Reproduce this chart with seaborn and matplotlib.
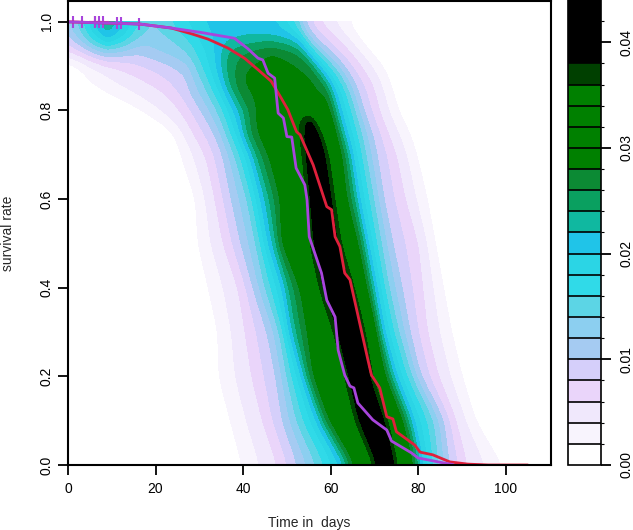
#!/usr/bin/env python3

import numpy as np
from matplotlib import pyplot as plt
import seaborn as sns

nan = float('nan')

# filled contour bands
band_levels = [0, .002, .004, .006, .008, .010, .012, .014, .016, .018, .020, .022,
               .024, .026, .028, .030, .032, .034, .036, .038, .040, .042, .044]
band_colors = ['#FFFFFF', '#F8F4FD', '#F0E8FC', '#EAD5FA', '#D5CFFA', '#A5CBF2', '#8CCFF0',
               '#5CD5E5', '#30DAE8', '#2BD5E5', '#20C4E8', '#10B8A0', '#0AA060', '#0C8A34',
               '#008000', '#008000', '#008000', '#008000', '#004000', '#000000', '#000000', '#000000']

# density ridge: time in days where each level is crossed, per survival rate
row_rate = [0, .1, .2, .3, .4, .5, .6, .7, .75, .8, .85, .9, .95, 1.0]
edge_levels = [.002, .006, .010, .014, .020, .024, .028, .036, .038]
left_edges = [
    [39.7, 48.0, 52.5, 56.8, 62.5, 64.0, 65.5, 70.0, 70.5],
    [37.0, 44.5, 49.0, 52.2, 56.8, 58.2, 59.4, 65.8, 66.2],
    [34.4, 42.0, 47.6, 50.0, 53.4, 54.5, 55.8, 63.4, 64.0],
    [34.2, 40.5, 45.6, 48.4, 50.5, 52.0, 54.6, 60.9, 61.4],
    [32.0, 39.0, 42.3, 45.0, 49.0, 50.3, 53.0, 57.5, 58.0],
    [29.7, 35.5, 39.5, 43.0, 45.7, 47.5, 48.6, 55.5, 56.0],
    [29.2, 33.6, 37.3, 41.0, 44.0, 46.0, 48.4, 54.6, 55.2],
    [25.8, 31.5, 35.4, 38.1, 41.6, 43.0, 45.7, 53.7, 54.3],
    [24.4, 28.5, 33.5, 36.0, 39.3, 40.5, 43.0, 53.0, 54.0],
    [16.6, 25.8, 30.4, 34.2, 38.0, 40.4, 43.0, 53.0, nan],
    [5.7, 21.7, 27.4, 31.5, 35.4, 37.0, 40.0, nan, nan],
    [2.7, 9.6, 26.7, 29.2, 33.8, 36.0, 40.0, nan, nan],
    [-4.0, 1.5, 6.8, 25.8, 33.5, 37.0, nan, nan, nan],
    [-10.0, -6.0, -1.0, 19.0, 31.0, nan, nan, nan, nan],
]
right_edges = [
    [99.3, 91.0, 87.0, 84.5, 81.0, 80.0, 79.0, 75.2, 74.7],
    [93.0, 88.5, 85.8, 83.5, 79.0, 77.8, 76.5, 73.0, 72.4],
    [90.0, 84.5, 80.4, 78.5, 75.0, 73.8, 72.4, 69.6, 69.0],
    [87.6, 82.0, 78.0, 75.5, 72.2, 71.2, 70.5, 67.9, 67.3],
    [85.7, 81.0, 76.2, 73.2, 70.5, 69.3, 68.3, 65.4, 64.8],
    [83.8, 80.0, 74.0, 71.5, 68.5, 67.5, 66.3, 62.3, 61.7],
    [82.0, 77.0, 72.0, 69.8, 66.5, 65.5, 63.6, 61.0, 60.2],
    [79.6, 75.0, 70.5, 68.0, 65.0, 64.0, 62.5, 59.6, 58.7],
    [78.0, 73.0, 69.4, 67.0, 63.7, 62.4, 61.3, 58.0, 57.2],
    [75.3, 71.0, 67.4, 65.5, 62.4, 61.0, 60.0, 54.8, nan],
    [74.0, 70.0, 66.0, 64.0, 61.0, 59.7, 58.5, nan, nan],
    [72.0, 67.0, 63.0, 60.8, 57.5, 56.0, 54.6, nan, nan],
    [67.4, 62.8, 57.5, 55.0, 53.4, 52.5, nan, nan, nan],
    [64.0, 56.8, 53.5, 52.5, 47.3, nan, nan, nan, nan],
]
# where the closed contours end: rate and time of the tip, per edge level (nan = reaches the top)
tip_rate = [nan, nan, nan, nan, nan, .964, .94, .808, .779]
tip_time = [nan, nan, nan, nan, nan, 46.0, 46.5, 53.7, 54.8]

# small bump at the start of the study
bump_time = [0, 3, 6, 9, 12, 15, 20, 25]
bump_rate = [.90, .93, .96, .98, 1.0]
bump_density = [
    [0, 0, 0, 0, 0, 0, 0, 0],
    [.006, .008, .011, .013, .012, .011, .010, 0],
    [.009, .012, .016, .019, .017, .014, .011, 0],
    [.011, .015, .020, .025, .021, .017, .012, 0],
    [.012, .015, .020, .023, .021, .017, .014, 0],
]

# survival curves
purple_time = [0, 16.4, 23.6, 30.4, 38.0, 41.0, 43.4, 44.5, 45.7, 47.2, 48.0, 49.2, 50.0, 51.1, 52.1,
               54.1, 54.6, 55.1, 57.9, 59.1, 61.0, 61.7, 63.2, 64.4, 65.3, 66.2, 69.6, 72.8, 73.9,
               78.5, 79.9, 85.6, 87.9]
purple_rate = [1.0, .995, .986, .976, .963, .940, .918, .914, .884, .873, .794, .783, .741, .740, .670,
               .632, .598, .515, .433, .372, .334, .259, .203, .178, .174, .140, .102, .079, .054,
               .027, .016, .005, .001]
red_time = [0, 16.4, 23.6, 28.2, 32.0, 36.5, 40.3, 43.4, 46.4, 48.7, 50.2, 52.2, 53.0, 56.0, 59.1, 60.2,
            61.0, 62.1, 63.2, 64.4, 68.5, 69.3, 71.2, 72.8, 74.2, 75.0, 79.2, 80.4, 83.3, 87.2, 91.3,
            96.0, 105.0]
red_rate = [1.0, .995, .986, .973, .961, .941, .918, .892, .866, .828, .802, .752, .745, .677, .583, .576,
            .515, .493, .433, .418, .237, .203, .174, .109, .104, .075, .045, .029, .023, .007, .002,
            0, 0]
purple_censored = [1.2, 3.1, 6.2, 7.2, 8.0, 11.1, 12.1, 16.2]
purple_censored_rate = [1.0, 1.0, 1.0, 1.0, 1.0, .998, .998, .995]
red_censored = [6.2]
red_censored_rate = [1.0]

PURPLE = '#A845DC'
RED = '#E0203C'


def edges_at(rates, table):
    # every level crossing along the fine rate grid, nan above the contour's tip
    table = np.array(table)
    result = np.full((len(rates), table.shape[1]), nan)
    for j in range(table.shape[1]):
        keep = ~np.isnan(table[:, j])
        xp = list(np.array(row_rate)[keep])
        fp = list(table[keep, j])
        if not np.isnan(tip_rate[j]):
            xp.append(tip_rate[j])
            fp.append(tip_time[j])
        result[:, j] = np.interp(rates, xp, fp, right=nan)
    return result


def soften(grid, width, axis):
    # moving average with edge padding, rounds off the corners between the table rows
    pad = width // 2
    kernel = np.ones(width) / width
    pad_width = [(pad, pad) if a == axis else (0, 0) for a in range(2)]
    padded = np.pad(grid, pad_width, mode='edge')
    return np.apply_along_axis(lambda v: np.convolve(v, kernel, mode='valid'), axis, padded)


def density_grid(times, rates):
    left = edges_at(rates, left_edges)
    right = edges_at(rates, right_edges)
    levels = np.array(edge_levels)
    grid = np.zeros((len(rates), len(times)))
    for i in range(len(rates)):
        here = ~np.isnan(left[i])
        top = levels[here][-1]
        peak = .042 if top >= .038 else top + .001
        ts = np.concatenate([[left[i][0] - 3], left[i][here],
                             [(left[i][here][-1] + right[i][here][-1]) / 2],
                             right[i][here][::-1], [right[i][0] + 3]])
        ds = np.concatenate([[0], levels[here], [peak], levels[here][::-1], [0]])
        grid[i] = np.interp(times, ts, ds)

    # the early bump sits on top of the ridge
    rows = np.array([np.interp(times, bump_time, r, right=0) for r in bump_density])
    bump = np.array([np.interp(rates, bump_rate, rows[:, k], left=0) for k in range(len(times))]).T
    grid = np.maximum(grid, bump)

    for _ in range(2):
        grid = soften(grid, 9, 0)
        grid = soften(grid, 5, 1)
    return grid


def create_plot(to_file):
    fig = plt.figure(figsize=(6.33, 5.30), dpi=100)
    ax = fig.add_axes([67.5 / 633, 1 - 465 / 530, (551 - 67.5) / 633, 464 / 530])
    cax = fig.add_axes([568 / 633, 1 - 465 / 530, 33 / 633, 465 / 530])

    times = np.arange(0, 110.5, .25)
    rates = np.arange(0, 1.0001, .005)
    cs = ax.contourf(times, rates, density_grid(times, rates), levels=band_levels, colors=band_colors)

    sns.lineplot(x=red_time, y=red_rate, ax=ax, color=RED, linewidth=2, sort=False, estimator=None)
    sns.lineplot(x=purple_time, y=purple_rate, ax=ax, color=PURPLE, linewidth=2, sort=False, estimator=None)
    sns.scatterplot(x=red_censored, y=red_censored_rate, ax=ax, color=RED, marker='+', s=70, linewidth=1.5)
    sns.scatterplot(x=purple_censored, y=purple_censored_rate, ax=ax, color=PURPLE, marker='+', s=70, linewidth=1.5)

    ax.set_xlim(-.1, 110.3)
    ax.set_ylim(0, 1.047)
    ax.set_xticks([0, 20, 40, 60, 80, 100])
    ax.set_yticks([0, .2, .4, .6, .8, 1.0])
    ax.tick_params(length=7, width=1.3, labelsize=10, color='black', labelcolor='black', pad=5)
    ax.tick_params(axis='y', pad=3)
    plt.setp(ax.get_yticklabels(), rotation=90, va='center')
    ax.set_xlabel('Time in  days', fontsize=10, labelpad=15)
    ax.set_ylabel('survival rate', fontsize=10, labelpad=18)
    for spine in ax.spines.values():
        spine.set_visible(True)
        spine.set_linewidth(1.5)
        spine.set_color('black')

    cb = fig.colorbar(cs, cax=cax, drawedges=True, spacing='proportional',
                      ticks=[0, .01, .02, .03, .04], format='%.2f')
    cb.dividers.set_color('black')
    cb.dividers.set_linewidth(1.2)
    cb.outline.set_edgecolor('black')
    cb.outline.set_linewidth(1.2)
    cax.tick_params(length=7, width=1.3, labelsize=10, pad=6, color='black', labelcolor='black')
    cax.set_yticks(band_levels[:-1], minor=True)
    cax.tick_params(which='minor', length=2.5, width=.8, color='black')
    plt.setp(cax.get_yticklabels(), rotation=90, va='center')

    fig.savefig(to_file, dpi=100)


if __name__ == '__main__':
    sns.set_theme(style="ticks")
    plt.rcParams['font.family'] = ['Liberation Sans', 'DejaVu Sans']
    create_plot('out.png')
